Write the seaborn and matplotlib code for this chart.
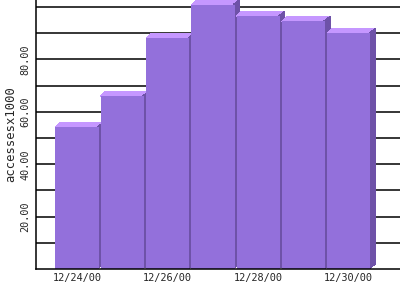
import matplotlib
matplotlib.use("Agg")
import matplotlib.pyplot as plt
import seaborn as sns
import pandas as pd
from matplotlib.patches import Polygon

dates = ["12/24/00", "12/25/00", "12/26/00", "12/27/00", "12/28/00", "12/29/00", "12/30/00"]
values = [54.2, 66.0, 88.1, 100.9, 96.5, 94.6, 90.0]
ytick_vals = [10, 20, 30, 40, 50, 60, 70, 80, 90, 100]
ytick_labels = ["", "20.00", "", "40.00", "", "60.00", "", "80.00", "", ""]
xtick_labels = ["12/24/00", "", "12/26/00", "", "12/28/00", "", "12/30/00"]

front_color = "#9370DB"
top_color = "#C597FF"
side_color = "#6E52A8"

sns.set_style("white")
plt.rcParams['font.family'] = ['DejaVu Sans Mono', 'DejaVu Sans']

df = pd.DataFrame({"date": dates, "value": values})

fig = plt.figure(figsize=(4, 3), dpi=100)
ax = fig.add_axes([0.09, 0.103, 0.91, 0.897])

sns.barplot(data=df, x="date", y="value", color=front_color, saturation=1,
            width=0.955, ax=ax, edgecolor="none", linewidth=0)

ax.set_xlim(-0.905, 7.13)
ax.set_ylim(0, 102.7)

ax.set_yticks(ytick_vals)
ax.set_yticklabels(ytick_labels, rotation=90, va="center", fontsize=7.3)
ax.yaxis.grid(True, color="black", linewidth=1.1)
ax.set_axisbelow(True)
ax.tick_params(axis="y", length=0, pad=4)
ax.tick_params(axis="x", length=0, pad=3)
ax.set_xticks(range(len(dates)))
ax.set_xticklabels(xtick_labels, fontsize=7.4)
ax.set_xlabel("")
ax.set_ylabel("accessesx1000", fontsize=8.8, labelpad=2)

for s in ["top", "right"]:
    ax.spines[s].set_visible(False)
for s in ["left", "bottom"]:
    ax.spines[s].set_color("black")
    ax.spines[s].set_linewidth(1.1)
    ax.spines[s].set_zorder(10)

fig.canvas.draw()
inv = ax.transData.inverted()
p0 = inv.transform((0, 0))
p1 = inv.transform((5, 5))
dx = p1[0] - p0[0]
dy = p1[1] - p0[1]
ov = dx * 0.3

for i, bar in enumerate(ax.patches[:len(values)]):
    z = 2 + i * 0.05
    bar.set_zorder(z + 0.01)
    bar.set_antialiased(False)
    x0 = bar.get_x()
    x1 = x0 + bar.get_width()
    h = bar.get_height()
    top = Polygon([(x0, h - ov), (x1, h - ov), (x1 + dx, h + dy), (x0 + dx, h + dy)],
                  closed=True, facecolor=top_color, edgecolor="none", zorder=z,
                  antialiased=False)
    side = Polygon([(x1 - ov, 0), (x1 - ov, h), (x1 + dx, h + dy), (x1 + dx, dy)],
                   closed=True, facecolor=side_color, edgecolor="none", zorder=z,
                   antialiased=False)
    ax.add_patch(top)
    ax.add_patch(side)

fig.savefig("out.png", dpi=100)
